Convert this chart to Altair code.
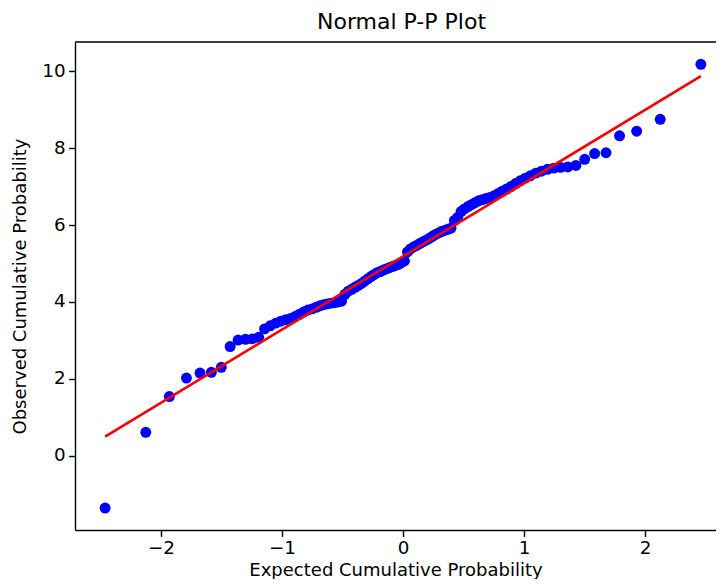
import altair as alt
import pandas as pd

theoretical = [
    -2.462, -2.126, -1.931, -1.790, -1.678, -1.584, -1.502, -1.429, -1.363, -1.302,
    -1.246, -1.193, -1.144, -1.097, -1.052, -1.010, -0.969, -0.930, -0.892, -0.856,
    -0.820, -0.786, -0.752, -0.719, -0.687, -0.656, -0.625, -0.595, -0.566, -0.537,
    -0.508, -0.480, -0.452, -0.425, -0.397, -0.370, -0.344, -0.317, -0.291, -0.265,
    -0.240, -0.214, -0.188, -0.163, -0.138, -0.113, -0.088, -0.062, -0.037, -0.012,
    0.012, 0.037, 0.062, 0.088, 0.113, 0.138, 0.163, 0.188, 0.214, 0.240,
    0.265, 0.291, 0.317, 0.344, 0.370, 0.397, 0.425, 0.452, 0.480, 0.508,
    0.537, 0.566, 0.595, 0.625, 0.656, 0.687, 0.719, 0.752, 0.786, 0.820,
    0.856, 0.892, 0.930, 0.969, 1.010, 1.052, 1.097, 1.144, 1.193, 1.246,
    1.302, 1.363, 1.429, 1.502, 1.584, 1.678, 1.790, 1.931, 2.126, 2.462,
]
observed = [
    -1.36, 0.61, 1.54, 2.02, 2.15, 2.17, 2.30, 2.84, 3.01, 3.03,
    3.04, 3.08, 3.30, 3.38, 3.45, 3.50, 3.54, 3.57, 3.62, 3.68,
    3.74, 3.79, 3.82, 3.86, 3.90, 3.93, 3.95, 3.97, 3.98, 4.00,
    4.02, 4.20, 4.28, 4.33, 4.38, 4.43, 4.48, 4.54, 4.60, 4.66,
    4.71, 4.76, 4.79, 4.83, 4.86, 4.89, 4.92, 4.95, 4.98, 5.02,
    5.07, 5.30, 5.38, 5.43, 5.47, 5.52, 5.56, 5.60, 5.65, 5.70,
    5.75, 5.79, 5.83, 5.86, 5.89, 5.92, 6.12, 6.20, 6.35, 6.42,
    6.48, 6.53, 6.58, 6.63, 6.66, 6.69, 6.72, 6.76, 6.82, 6.88,
    6.94, 7.00, 7.08, 7.15, 7.22, 7.28, 7.35, 7.40, 7.45, 7.48,
    7.50, 7.51, 7.55, 7.71, 7.86, 7.88, 8.32, 8.44, 8.75, 10.18,
]
fit_x = [-2.462, 2.462]
fit_y = [0.50, 9.87]

x_ticks = [-2, -1, 0, 1, 2]
y_ticks = [0, 2, 4, 6, 8, 10]

X_DOMAIN = [-2.711, 2.587]
Y_DOMAIN = [-1.93, 10.76]

pts = pd.DataFrame({"x": theoretical, "y": observed})
fit = pd.DataFrame({"x": fit_x, "y": fit_y})

FONT = "DejaVu Sans"
PLOT_W = 641
xscale = alt.Scale(domain=X_DOMAIN, nice=False, zero=False)
yscale = alt.Scale(domain=Y_DOMAIN, nice=False, zero=False)

common = dict(
    grid=False, domain=True, domainColor="black", domainWidth=1.4,
    tickSize=6.4, tickWidth=1.4, tickColor="black", labelPadding=3.5,
    labelFontSize=18.3, labelFont=FONT, labelColor="black",
    titleFontSize=18, titleFont=FONT, titleFontWeight="normal", titleColor="black",
)
xaxis = alt.Axis(values=x_ticks, format="d", title="Expected Cumulative Probability",
                 titleBaseline="alphabetic", titleY=45, **common)
yaxis = alt.Axis(values=y_ticks, format="d", title="Observed Cumulative Probability",
                 titleBaseline="middle", titleX=-55, **common)

points = alt.Chart(pts).mark_circle(color="#0000ff", opacity=1, size=120).encode(
    x=alt.X("x:Q", scale=xscale, axis=xaxis),
    y=alt.Y("y:Q", scale=yscale, axis=yaxis),
)
line = alt.Chart(fit).mark_line(color="#ff0000", strokeWidth=2.6).encode(
    x=alt.X("x:Q", scale=xscale),
    y=alt.Y("y:Q", scale=yscale),
)
# top spine of the axes frame
top_spine = alt.Chart(pd.DataFrame({"a": [0]})).mark_rule(color="black", strokeWidth=1.4).encode(
    x=alt.datum(X_DOMAIN[0], type="quantitative", scale=xscale),
    x2=alt.datum(X_DOMAIN[1]),
    y=alt.datum(Y_DOMAIN[1], type="quantitative", scale=yscale),
)

chart = alt.layer(points, line, top_spine).properties(
    width=PLOT_W, height=488,
    autosize=alt.AutoSizeParams(type="none"),
    padding={"left": 67, "top": 34, "right": 0, "bottom": 49},
    title=alt.TitleParams(
        "Normal P-P Plot", font=FONT, fontSize=22, fontWeight="normal", color="black",
        anchor="middle", baseline="bottom", offset=6, dx=6, dy=21,
    ),
).configure_view(stroke=None)

chart.save("out.html", embed_options={"renderer": "svg", "actions": False})
